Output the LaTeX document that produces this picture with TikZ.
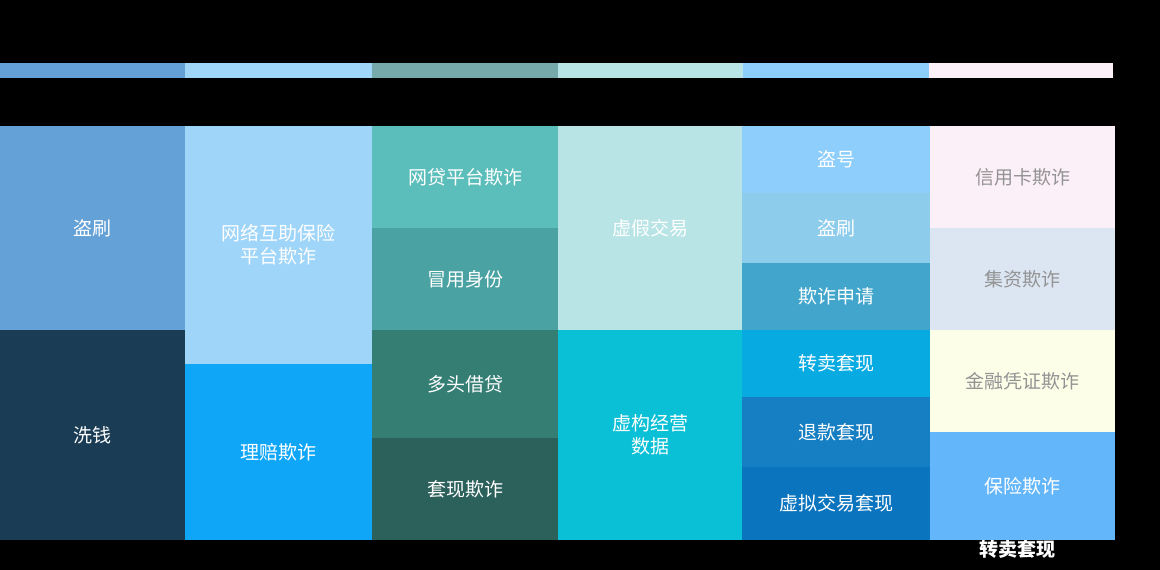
\documentclass[tikz,border=0pt]{standalone}
\usepackage{fontspec}
\setmainfont{Noto Sans CJK SC}
\begin{document}
\begin{tikzpicture}[x=1pt,y=-1pt,
  cell/.style={draw=none,inner sep=0pt,font=\fontsize{19}{23}\selectfont,text=white,align=center},
  gcell/.style={cell,text=gray!85}]
\useasboundingbox (0,0) rectangle (1160,570);
\fill[black] (0,0) rectangle (1160,570);
\definecolor{t1}{RGB}{100,161,214}
\definecolor{t2}{RGB}{160,213,250}
\definecolor{t3}{RGB}{118,170,170}
\definecolor{t4}{RGB}{184,228,230}
\definecolor{t5}{RGB}{142,206,252}
\definecolor{t6}{RGB}{252,240,248}
\fill[t1] (0,63) rectangle (185,78);
\fill[t2] (185,63) rectangle (372,78);
\fill[t3] (372,63) rectangle (558,78);
\fill[t4] (558,63) rectangle (743,78);
\fill[t5] (743,63) rectangle (929,78);
\fill[t6] (929,63) rectangle (1113,78);
\newcommand{\cellbox}[7]{%
  \definecolor{cc}{RGB}{#6}%
  \fill[cc] (#1,#2) rectangle (#3,#4);
  \node[#7] (n#1x#2) at ({(#1+#3)/2},{(#2+#4)/2}) {#5};}
\cellbox{0}{126}{185}{330}{盗刷}{100,161,214}{cell}
\cellbox{0}{330}{185}{540}{洗钱}{26,60,84}{cell}
\cellbox{185}{126}{372}{364}{网络互助保险\\平台欺诈}{160,213,250}{cell}
\cellbox{185}{364}{372}{540}{理赔欺诈}{16,166,248}{cell}
\cellbox{372}{126}{558}{228}{网贷平台欺诈}{92,190,186}{cell}
\cellbox{372}{228}{558}{330}{冒用身份}{74,162,162}{cell}
\cellbox{372}{330}{558}{438}{多头借贷}{52,126,116}{cell}
\cellbox{372}{438}{558}{540}{套现欺诈}{44,96,90}{cell}
\cellbox{558}{126}{742}{330}{虚假交易}{184,228,230}{cell}
\cellbox{558}{330}{742}{540}{虚构经营\\数据}{10,192,214}{cell}
\cellbox{742}{126}{930}{193}{盗号}{142,206,252}{cell}
\cellbox{742}{193}{930}{263}{盗刷}{142,204,236}{cell}
\cellbox{742}{263}{930}{330}{欺诈申请}{66,166,204}{cell}
\cellbox{742}{330}{930}{397}{转卖套现}{8,170,226}{cell}
\cellbox{742}{397}{930}{467}{退款套现}{22,126,194}{cell}
\cellbox{742}{467}{930}{540}{虚拟交易套现}{10,116,190}{cell}
\cellbox{930}{126}{1115}{228}{信用卡欺诈}{252,240,248}{gcell}
\cellbox{930}{228}{1115}{330}{集资欺诈}{220,230,242}{gcell}
\cellbox{930}{330}{1115}{432}{金融凭证欺诈}{252,254,232}{gcell}
\cellbox{930}{432}{1115}{540}{保险欺诈}{100,182,250}{cell}
\begin{scope}
\clip (0,540) rectangle (1160,570);
\node[cell,font=\bfseries\fontsize{19}{23}\selectfont] (extra) at (1017,549) {转卖套现};
\end{scope}
\end{tikzpicture}
\end{document}
